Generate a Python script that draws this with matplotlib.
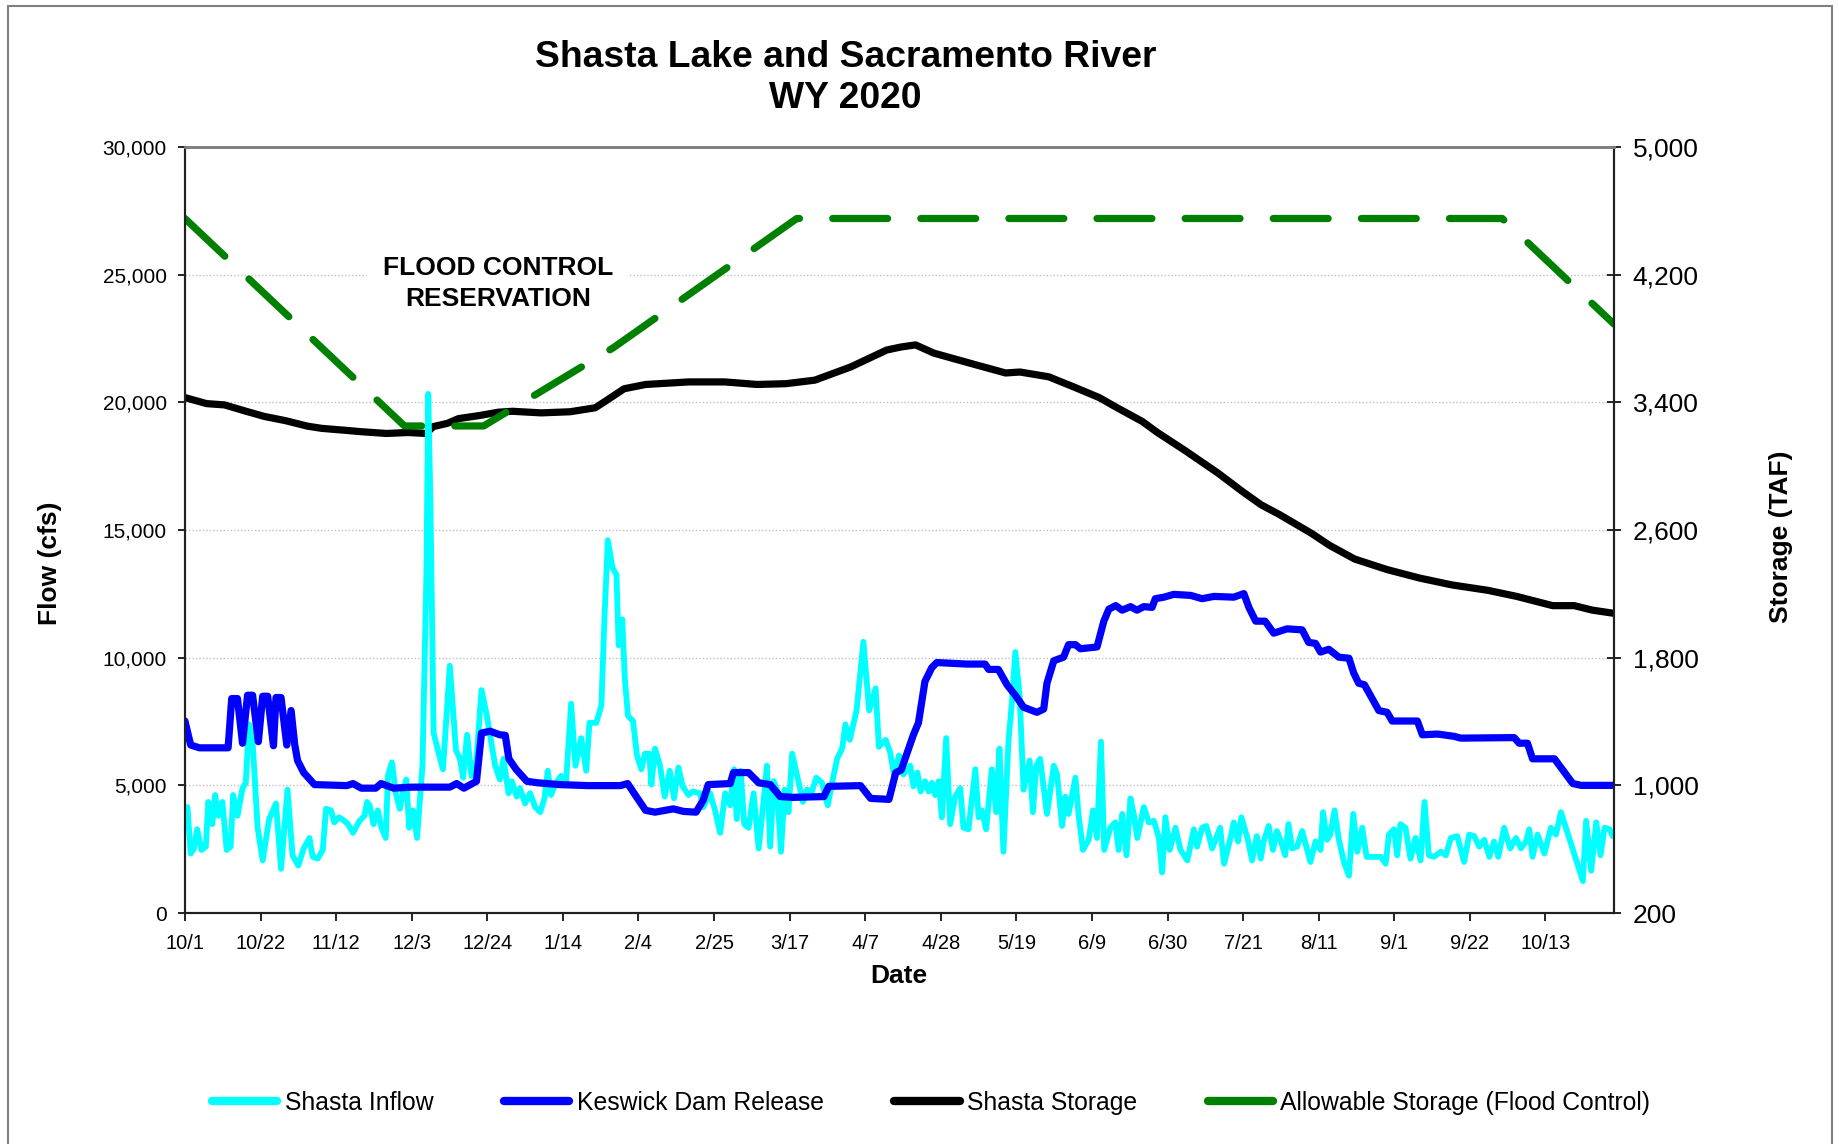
import numpy as np
import pandas as pd
import matplotlib
matplotlib.use('Agg')
import matplotlib.pyplot as plt
from matplotlib.lines import Line2D
from matplotlib.patches import Rectangle

plt.rcParams['font.family'] = ['Liberation Sans', 'DejaVu Sans']

# 数据: 天数从 2019-10-01 起算
start = pd.Timestamp('2019-10-01')

inflow_day = [0.7, 1.6, 2.5, 3.4, 4.6, 5.8, 6.5, 7.6, 8.4, 9.3, 10.4, 11.6, 12.7, 13.4, 14.6, 16, 16.9, 17.8, 18.8,
              20.2, 21.6, 23.4, 25.3, 26.7, 28.5, 29.9, 31.5, 33, 34.6, 35.5, 36.9, 38.3, 39.2, 40.6, 41.5, 42.8,
              44.3, 45.3, 46.7, 48.5, 49.9, 50.6, 51.3, 52.4, 53.6, 54.6, 55.8, 56.4, 57.5, 58.6, 59.7, 60.6, 61.5,
              62.3, 63.4, 64.5, 66, 67.1, 67.6, 68.2, 69.1, 70.4, 71.7, 73.6, 75.3, 76.4, 77.3, 78.4, 79.6, 81, 82.4,
              83.8, 85, 86.2, 87.5, 88.5, 89.9, 90.8, 92.2, 93.1, 94.5, 95.9, 97.3, 98.7, 99.9, 100.8, 101.7, 103.1,
              104.5, 105.9, 107.3, 108.5, 110.1, 111.5, 112.4, 114.3, 115.7, 116.6, 117.5, 118.8, 119.9, 120.5,
              121.5, 122.2, 123.1, 124.5, 125.6, 126.8, 127.8, 129, 129.6, 130.6, 132, 133.3, 134.7, 135.9, 137.1,
              138.3, 139.9, 141.2, 143.1, 144, 145.9, 147.3, 148.7, 150.1, 151.5, 152.6, 153.3, 154.4, 155.4, 156.6,
              158, 159.4, 160.6, 161.7, 162.6, 163.6, 164.5, 165.6, 166.6, 167.7, 168.7, 170.1, 171.7, 172.8, 174.2,
              175.4, 177, 178.6, 179.8, 181.2, 182.6, 183.5, 184.7, 186.6, 188.5, 190.1, 191.9, 192.8, 194.7, 195.9,
              197, 198.4, 198.7, 199.6, 201.5, 202.4, 203.5, 204.4, 205.6, 206.6, 207.5, 208.4, 209.4, 210.3, 211.5,
              212.6, 214, 215.4, 216.3, 217.7, 219.6, 220.5, 221.4, 222.6, 224.2, 225.4, 226.3, 227.4, 228.8, 229.8,
              230.7, 231.9, 233, 234.7, 235.6, 236.5, 237.6, 239.5, 241.4, 242.3, 243.7, 244.6, 245.5, 247.4, 248.3,
              249.5, 251.1, 252.3, 253.4, 254.5, 255.4, 257.1, 258.5, 259.4, 260.4, 261.6, 262.7, 263.6, 264.6,
              266.4, 267.8, 269.2, 270.6, 271.5, 272.4, 273.6, 275.2, 276.6, 278.5, 280.3, 281.2, 282.6, 283.8,
              285.4, 287.6, 288.7, 290.5, 291.4, 292.6, 293.5, 295.2, 296.5, 297.8, 298.9, 299.7, 301.1, 302.3,
              303.4, 304.5, 305.7, 306.6, 307.6, 309, 310.4, 311.3, 312.7, 314.1, 315.5, 316.2, 317.3, 318.2, 319.4,
              320.6, 322, 323.4, 324.6, 325.7, 327.1, 328.3, 329.4, 330.8, 332.2, 333.6, 334.5, 335.9, 336.8, 337.7,
              339.1, 340.5, 341.9, 343.3, 344.4, 345.6, 347, 348.9, 350.3, 351.7, 353.5, 355.4, 356.8, 358.2, 359.6,
              361, 362.4, 363.7, 364.9, 366.5, 368.2, 369.8, 371.2, 372.6, 373.5, 374.4, 375.8, 377.7, 379.5, 380.9,
              382.3, 388.4, 389.3, 390.7, 392.1, 393.3, 394.4, 395.8, 396.7]
inflow_cfs = [4150, 2330, 2530, 3280, 2470, 2600, 4350, 3480, 4620, 3810, 4350, 2470, 2600, 4620, 3810, 4890, 5100, 7390,
              6710, 3340, 2060, 3680, 4290, 1730, 4830, 2260, 1860, 2530, 2940, 2200, 2130, 2470, 4080, 4020, 3550,
              3750, 3610, 3480, 3140, 3610, 3810, 4350, 4220, 3480, 4020, 3340, 2940, 5370, 5900, 4690, 4080, 4760,
              5230, 3340, 4020, 2940, 5770, 13320, 20330, 16150, 7050, 6310, 5630, 9680, 6380, 6040, 5300, 6980, 5370,
              6040, 8730, 7790, 6780, 5770, 5230, 6040, 4690, 5160, 4560, 4890, 4290, 4690, 4150, 3950, 4490, 5570,
              4620, 5100, 5370, 5160, 8200, 5770, 6850, 5570, 7450, 7450, 8130, 11700, 14600, 13520, 13250, 10490,
              11500, 9210, 7720, 7520, 6170, 5630, 6240, 6240, 5030, 6440, 5770, 4560, 5570, 4490, 5700, 4960, 4620,
              4760, 4690, 4150, 4690, 4020, 3140, 4690, 4220, 5630, 3680, 5570, 3480, 3340, 4690, 2530, 4150, 5770,
              2600, 5160, 4830, 2400, 4830, 3950, 6240, 5370, 4350, 4830, 4760, 5300, 5100, 4220, 5100, 6040, 6440,
              7390, 6780, 7930, 10620, 7930, 8800, 6510, 6780, 6310, 5430, 6170, 6110, 5430, 5770, 4960, 5500, 4760,
              5160, 4760, 5100, 4620, 5160, 3750, 6850, 3480, 4560, 4890, 3340, 3280, 5630, 3750, 4020, 3280, 5630,
              3950, 6440, 2400, 6710, 8330, 10220, 8530, 4830, 5970, 3950, 5770, 6040, 3880, 5770, 5430, 3410, 4560,
              3880, 5300, 3810, 2470, 2870, 4020, 2940, 6710, 2470, 3340, 3550, 2470, 3880, 2260, 4490, 3880, 2940,
              4150, 3550, 3610, 2940, 1590, 3750, 2470, 3340, 2470, 2060, 3280, 2600, 3340, 3410, 2530, 3340, 1930,
              2940, 3550, 2800, 3750, 2940, 2060, 3010, 2130, 2800, 3410, 2470, 3210, 2800, 2260, 3480, 2530, 2600,
              3210, 2740, 2000, 2800, 2470, 3950, 2870, 3070, 4020, 2870, 2000, 1460, 3880, 2400, 3340, 2200, 2200,
              2200, 2200, 1930, 3070, 3280, 2260, 3480, 3340, 2130, 2940, 2060, 4350, 2260, 2200, 2400, 2260, 2940,
              3010, 2000, 3070, 3010, 2600, 2870, 2200, 2800, 2200, 3340, 2530, 2940, 2530, 2800, 3280, 2200, 3070,
              2330, 3340, 3070, 3950, 1250, 3610, 1660, 3550, 2260, 3340, 3280, 3010]

release_day = [0, 1.6, 4, 12, 13, 14.6, 16, 17.4, 18.8, 20.4, 21.6, 23, 24.6, 25.3, 26.7, 28.3, 29.5, 30.5, 31.3, 33,
               36, 45, 46.7, 49, 53, 54.5, 58, 63, 73.6, 75.5, 77.5, 81, 82.4, 84.8, 87.5, 89, 90, 92, 95, 98, 104,
               112, 121, 123, 125.4, 128, 130.6, 135.7, 138.5, 142, 144, 145.4, 151.5, 152.4, 156.6, 159.4, 162.6,
               165.4, 169, 177.5, 178.9, 187.7, 190.5, 195.6, 197.5, 199, 202.4, 203.8, 205.6, 207.5, 208.9, 217.2,
               222.3, 223.3, 226, 228.4, 230.7, 233, 236.7, 238.6, 239.5, 241.4, 244.1, 245.5, 247.4, 248.8, 253.4,
               255.3, 256.7, 258.6, 260.4, 262.7, 264.5, 266.4, 268.7, 269.6, 272, 274.7, 279.4, 282.6, 285.9, 291.4,
               294.2, 295.6, 297.5, 300.1, 302.5, 306.2, 310.4, 312.2, 314.1, 315.5, 317.8, 320.6, 323.4, 324.7,
               326.1, 327.7, 331.7, 334, 335.4, 342.4, 343.8, 348, 352.6, 354.5, 369.3, 370.7, 373, 374.4, 380.5,
               385.6, 387.9, 396.7]
release_cfs = [7520, 6580, 6470, 6470, 8400, 8400, 6650, 8530, 8530, 6710, 8490, 8490, 6550, 8440, 8440, 6580, 7930,
               6600, 5970, 5500, 5030, 4990, 5070, 4890, 4890, 5070, 4890, 4930, 4930, 5070, 4890, 5160, 7050, 7120,
               6980, 6960, 6040, 5630, 5160, 5100, 5030, 4990, 4990, 5070, 4560, 4020, 3950, 4080, 3980, 3950, 4420,
               5030, 5070, 5500, 5500, 5100, 5030, 4560, 4530, 4560, 4960, 4990, 4490, 4450, 5500, 5600, 6980, 7450,
               9070, 9610, 9810, 9750, 9750, 9540, 9540, 8940, 8530, 8060, 7860, 7990, 9000, 9880, 10020, 10510,
               10510, 10350, 10420, 11430, 11900, 12040, 11860, 12000, 11860, 12000, 11970, 12310, 12370, 12480,
               12440, 12310, 12400, 12370, 12510, 11970, 11430, 11430, 10960, 11130, 11090, 10600, 10560, 10220,
               10330, 10020, 9980, 9410, 9000, 8940, 7930, 7860, 7520, 7520, 6980, 7010, 6920, 6850, 6870, 6650,
               6650, 6040, 6040, 5070, 5000, 5000]

storage_day = [0, 6, 11, 17, 22, 28, 34, 38, 45, 49, 56, 62, 67, 69, 73, 76, 82, 87, 91, 99, 107, 114, 117, 122, 128,
               140, 150, 159, 167, 175, 185, 195, 199, 203, 208, 218, 228, 232, 240, 247, 254, 259, 266, 270, 278,
               287, 294, 299, 304, 313, 318, 325, 334, 343, 352, 362, 370, 380, 386, 391, 397]
storage_taf = [3430, 3392, 3384, 3344, 3312, 3285, 3251, 3237, 3224, 3216, 3205, 3211, 3205, 3248, 3269, 3298, 3318,
               3338, 3344, 3334, 3341, 3366, 3410, 3485, 3512, 3528, 3528, 3512, 3517, 3539, 3622, 3728, 3747, 3760,
               3709, 3646, 3584, 3590, 3560, 3496, 3430, 3366, 3280, 3214, 3096, 2957, 2838, 2758, 2698, 2579, 2504,
               2418, 2352, 2299, 2256, 2222, 2184, 2126, 2126, 2098, 2078]

flood_day = [0, 61, 83, 119, 170, 366, 397]
flood_taf = [4552, 3252, 3252, 3742, 4552, 4552, 3891]

tick_days = np.arange(0, 379, 21)
tick_labels = [f'{d.month}/{d.day}' for d in start + pd.to_timedelta(tick_days, unit='D')]

fig = plt.figure(figsize=(18.4, 11.44), dpi=100)
ax = fig.add_axes([0.1005, 0.2019, 0.7766, 0.6696])
ax2 = ax.twinx()
# 主轴画在副轴之上
ax.set_zorder(ax2.get_zorder() + 1)
ax.patch.set_visible(False)

ax2.plot(storage_day, storage_taf, color='black', lw=5.2, solid_joinstyle='round', solid_capstyle='round')
ax2.plot(flood_day, flood_taf, color='#008000', lw=5.2, dashes=(7.6, 4.6), dash_capstyle='round',
         dash_joinstyle='round')
ax.plot(inflow_day, inflow_cfs, color='#00FFFF', lw=4.2, solid_joinstyle='round', solid_capstyle='round')
ax.plot(release_day, release_cfs, color='#0000FF', lw=5.2, solid_joinstyle='round', solid_capstyle='round')

ax.set_xlim(0, 397)
ax.set_ylim(0, 30000)
ax2.set_ylim(200, 5000)
ax.set_yticks(np.arange(0, 30001, 5000))
ax.set_yticklabels([f'{v:,}' for v in range(0, 30001, 5000)])
ax2.set_yticks(np.arange(200, 5001, 800))
ax2.set_yticklabels([f'{v:,}' for v in range(200, 5001, 800)])
ax.set_xticks(tick_days)
ax.set_xticklabels(tick_labels)

ax2.yaxis.grid(True, linestyle=(0, (1, 1.5)), color='#c0c0c0', lw=1)
ax2.set_axisbelow(True)

ax.tick_params(axis='y', direction='out', length=5, width=1.2, labelsize=15, pad=8)
ax.tick_params(axis='x', direction='out', length=6, width=1.2, labelsize=14.5, pad=9)
ax2.tick_params(axis='y', direction='inout', length=10, width=1.2, labelsize=19, pad=8.5)

for a in (ax, ax2):
    a.spines['top'].set_color('#808080')
    a.spines['top'].set_linewidth(2)
    for s in ('left', 'right', 'bottom'):
        a.spines[s].set_linewidth(1.5)
        a.spines[s].set_color('#202020')

ax.text(87, 24650, 'FLOOD CONTROL\nRESERVATION', ha='center', va='center', fontsize=19, fontweight='bold',
        linespacing=1.36, bbox=dict(boxstyle='square,pad=0.6', fc='white', ec='none'), zorder=6)

fig.text(0.4595, 0.950, 'Shasta Lake and Sacramento River', ha='center', va='center', fontsize=26.8, fontweight='bold')
fig.text(0.4595, 0.914, 'WY 2020', ha='center', va='center', fontsize=26.8, fontweight='bold')
fig.text(0.0272, 0.508, 'Flow (cfs)', rotation=90, ha='center', va='center', fontsize=19, fontweight='bold')
fig.text(0.968, 0.531, 'Storage (TAF)', rotation=90, ha='center', va='center', fontsize=19, fontweight='bold')
fig.text(0.4886, 0.1466, 'Date', ha='center', va='center', fontsize=19, fontweight='bold')

# 图例
handles = [Line2D([], [], color='#00FFFF', lw=6, solid_capstyle='round'),
           Line2D([], [], color='#0000FF', lw=6, solid_capstyle='round'),
           Line2D([], [], color='black', lw=6, solid_capstyle='round'),
           Line2D([], [], color='#008000', lw=6, solid_capstyle='round')]
labels = ['Shasta Inflow', 'Keswick Dam Release', 'Shasta Storage', 'Allowable Storage (Flood Control)']
fig.legend(handles, labels, loc='center', bbox_to_anchor=(0.506, 0.036), ncol=4, frameon=False, fontsize=17.8,
           handlelength=2.65, handletextpad=0.3, columnspacing=2.85)

# 外框
fig.patches.append(Rectangle((0.0043, -0.02), 0.9913, 1.0148, transform=fig.transFigure, fill=False,
                             ec='#808080', lw=1.5))

plt.savefig('out.png', dpi=100)
